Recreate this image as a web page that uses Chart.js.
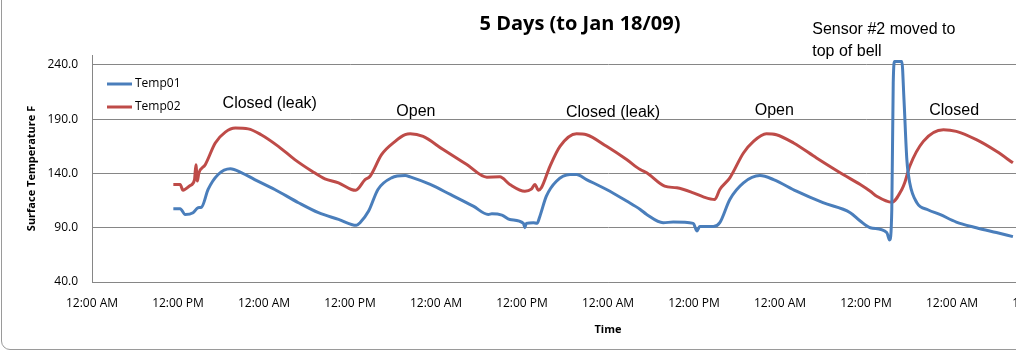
<!DOCTYPE html>
<html>
<head>
<meta charset="utf-8">
<title>5 Days (to Jan 18/09)</title>
<script src="https://cdn.jsdelivr.net/npm/chart.js@4.4.1/dist/chart.umd.min.js"></script>
<style>
    html, body { margin: 0; padding: 0; background: #fff; overflow: hidden; }
    #wrap { position: relative; width: 1160px; height: 353px; }
    #frame {
        position: absolute; left: 1px; top: -12px; width: 1200px; height: 362px;
        border: 1px solid #9a9a9a; border-radius: 9px; box-sizing: border-box;
    }
    #temp-chart { position: absolute; left: 0; top: 0; }
</style>
</head>
<body>
<div id="wrap">
    <div id="frame"></div>
    <canvas id="temp-chart" width="1160" height="353"></canvas>
</div>
<script>
// Hours since 12:00 AM of the first day
const temp01Hours = [
    11.35, 12.3, 13.0, 14.1, 14.8, 15.3, 16.2, 17.6, 19.3, 20.9, 22.7, 25.5, 28.8, 31.6, 34.4,
    36.9, 37.4, 38.6, 39.9, 41.8, 43.7, 44.4, 47.2, 50.0, 53.2, 55.3, 55.8, 57.2, 58.3, 60.2,
    60.4, 60.6, 61.6, 62.1, 62.5, 63.4, 64.8, 66.7, 67.6, 69.0, 71.8, 74.6, 76.5, 77.4, 79.7,
    81.1, 83.9, 84.4, 84.8, 86.7, 87.6, 89.0, 90.9, 93.2, 95.1, 98.3, 102.0, 105.8, 107.2, 108.6,
    110.9, 111.3, 111.6, 111.8, 112.0, 113.0, 113.3, 113.7, 114.1, 115.1, 116.7, 118.3, 120.6, 123.4, 126.2,
    128.5
];
const temp01 = [
    107.5, 107.5, 102.2, 103.8, 108.4, 109.0, 125.2, 139.0, 144.2, 140.5, 134.3, 125.2, 113.0, 103.8, 97.7,
    92.2, 94.6, 105.3, 125.2, 135.9, 138.0, 136.8, 129.8, 120.6, 109.8, 102.2, 102.8, 101.6, 97.6, 94.0,
    90.0, 94.0, 94.6, 94.0, 100.6, 119.0, 132.8, 138.9, 138.9, 134.3, 125.2, 114.5, 106.8, 102.2, 94.6,
    95.2, 94.0, 87.0, 91.0, 91.0, 94.6, 116.0, 131.3, 138.0, 134.3, 123.6, 113.0, 103.8, 96.1, 90.0,
    85.5, 78.7, 106.8, 223.2, 243.0, 243.0, 207.9, 152.7, 131.3, 113.0, 106.3, 102.2, 95.2, 90.0, 85.5,
    81.8
];

const temp02Hours = [
    11.35, 12.3, 12.7, 13.7, 14.3, 14.5, 14.7, 14.9, 15.8, 17.2, 18.6, 20.0, 21.8, 23.6, 26.0,
    28.3, 30.7, 32.5, 34.4, 36.2, 36.8, 38.1, 38.8, 40.4, 42.3, 43.7, 44.4, 46.2, 49.0, 52.3,
    55.1, 56.9, 58.3, 60.4, 61.3, 61.8, 62.3, 62.7, 63.9, 65.3, 67.6, 69.0, 71.8, 74.6, 76.5,
    77.4, 79.9, 81.6, 83.9, 85.3, 86.9, 87.6, 89.0, 90.9, 92.3, 94.1, 95.5, 97.9, 101.1, 104.8,
    107.2, 108.6, 109.5, 111.6, 113.0, 113.4, 114.1, 116.0, 118.8, 120.6, 123.4, 126.2, 128.5
];
const temp02 = [
    129.7, 129.7, 124.5, 128.8, 134.0, 148.0, 133.0, 140.0, 148.0, 168.0, 178.0, 181.7, 181.0, 175.6, 164.9,
    152.7, 142.0, 135.0, 131.3, 125.2, 124.5, 134.3, 137.4, 157.3, 169.5, 175.6, 176.5, 174.0, 161.9, 148.1,
    136.5, 136.8, 129.8, 123.6, 125.5, 129.8, 124.5, 126.7, 146.5, 164.9, 176.5, 175.6, 164.9, 152.7, 143.5,
    140.5, 128.2, 126.7, 122.1, 118.4, 116.0, 125.2, 135.9, 158.8, 169.5, 176.5, 175.6, 168.0, 154.2, 139.0,
    129.8, 123.6, 119.0, 113.5, 125.2, 131.3, 146.5, 169.5, 180.2, 178.7, 171.0, 160.3, 149.7
];

const yTicks = [40, 90, 140, 190, 240];

// Notes written on the chart: [hour, temperature, text, align]
const notes = [
    [24.8, 204.2, 'Closed (leak)', 'center'],
    [45.2, 196.8, 'Open', 'center'],
    [72.7, 195.9, 'Closed (leak)', 'center'],
    [95.2, 197.7, 'Open', 'center'],
    [120.3, 197.7, 'Closed', 'center'],
    [100.5, 272.2, 'Sensor #2 moved to', 'left'],
    [100.5, 252.0, 'top of bell', 'left']
];

const BLUE = '#4a7ebb';
const RED = '#be4b48';
const GRID = '#868686';
const FONT = "'Open Sans', sans-serif";

/**
 * Legend in the top left corner of the plot, Excel style
 */
const innerLegend = {
    id: 'innerLegend',
    afterDatasetsDraw(chart) {
        const ctx = chart.ctx;
        const left = chart.chartArea.left + 15;
        const top = chart.chartArea.top + 29;
        ctx.save();
        ctx.font = '12px ' + FONT;
        ctx.textBaseline = 'middle';
        chart.data.datasets.forEach((ds, i) => {
            const y = top + i * 23;
            ctx.strokeStyle = ds.borderColor;
            ctx.lineWidth = 3;
            ctx.beginPath();
            ctx.moveTo(left, y);
            ctx.lineTo(left + 25, y);
            ctx.stroke();
            ctx.fillStyle = '#000';
            ctx.fillText(ds.label, left + 28, y);
        });
        ctx.restore();
    }
};

/**
 * Text notes placed through the chart scales
 */
const chartNotes = {
    id: 'chartNotes',
    afterDatasetsDraw(chart) {
        const ctx = chart.ctx;
        const x = chart.scales.x;
        const y = chart.scales.y;
        ctx.save();
        ctx.font = "16px 'Liberation Sans', Arial, sans-serif";
        ctx.fillStyle = '#000';
        ctx.textBaseline = 'middle';
        notes.forEach(([h, t, text, align]) => {
            ctx.textAlign = align;
            ctx.fillText(text, x.getPixelForValue(h), y.getPixelForValue(t));
        });
        ctx.restore();
    }
};

const toPoints = (hours, values) => hours.map((h, i) => ({ x: h, y: values[i] }));

new Chart(document.getElementById('temp-chart'), {
    type: 'line',
    data: {
        datasets: [{
            label: 'Temp01',
            data: toPoints(temp01Hours, temp01),
            borderColor: BLUE,
            backgroundColor: BLUE,
            borderWidth: 3,
            pointRadius: 0,
            cubicInterpolationMode: 'monotone'
        }, {
            label: 'Temp02',
            data: toPoints(temp02Hours, temp02),
            borderColor: RED,
            backgroundColor: RED,
            borderWidth: 3,
            pointRadius: 0,
            cubicInterpolationMode: 'monotone'
        }]
    },
    options: {
        responsive: false,
        animation: false,
        events: [],
        layout: { padding: 0 },
        plugins: {
            legend: { display: false },
            tooltip: { enabled: false },
            title: {
                display: true,
                text: '5 Days (to Jan 18/09)',
                color: '#000',
                font: { family: FONT, size: 20, weight: 'bold' },
                padding: { top: 12, bottom: 19 }
            }
        },
        scales: {
            x: {
                type: 'linear',
                min: 0,
                max: 144,
                grid: { display: false, drawTicks: false },
                border: { display: true, color: GRID },
                ticks: {
                    stepSize: 12,
                    autoSkip: false,
                    maxRotation: 0,
                    padding: 14,
                    color: '#000',
                    font: { family: FONT, size: 12 },
                    callback: v => (v % 24 === 0 ? '12:00 AM' : '12:00 PM')
                },
                title: {
                    display: true,
                    text: 'Time',
                    color: '#000',
                    font: { family: FONT, size: 11, weight: 'bold' },
                    padding: { top: 0, bottom: 17 }
                },
                afterFit: s => {
                    s.height = 71;
                    s.paddingLeft = 0;
                    s.paddingRight = 36;
                }
            },
            y: {
                min: 40,
                max: 249,
                afterBuildTicks: s => { s.ticks = yTicks.map(v => ({ value: v })); },
                grid: { color: GRID, drawTicks: false },
                border: { display: true, color: GRID },
                ticks: {
                    padding: 14,
                    color: '#000',
                    font: { family: FONT, size: 12 },
                    callback: v => v.toFixed(1)
                },
                title: {
                    display: true,
                    text: 'Surface Temperature F',
                    color: '#000',
                    font: { family: FONT, size: 11, weight: 'bold' },
                    padding: { top: 25, bottom: 0 }
                },
                afterFit: s => { s.width = 92; }
            }
        }
    },
    plugins: [innerLegend, chartNotes]
});
</script>
</body>
</html>
